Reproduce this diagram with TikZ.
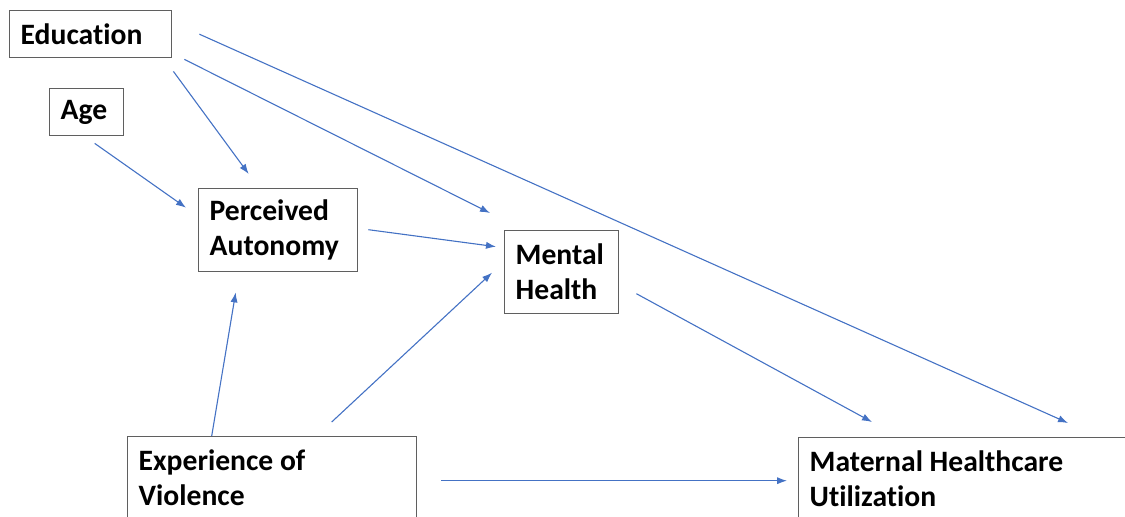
\documentclass[tikz,border=0pt]{standalone}
\usepackage{fontspec}
\setmainfont{Carlito}[RawFeature={-liga}]
\usepackage{tikz}
\usetikzlibrary{arrows.meta}

\definecolor{arrowblue}{HTML}{4472C4}
\definecolor{boxgray}{HTML}{5F5F5F}

\tikzset{
  box/.style={draw=boxgray,line width=0.7pt,anchor=north west,align=flush left,
    inner xsep=5.5pt,inner ysep=0pt,
    font=\bfseries\fontsize{14.8}{17.5}\selectfont},
  link/.style={draw,->,color=arrowblue,line width=0.55pt}
}

\begin{document}
\begin{tikzpicture}[x=0.5pt,y=-0.5pt,>={Latex[length=5pt,width=3.6pt]}]

\useasboundingbox (0,0) rectangle (1125,517);
\clip (0,0) rectangle (1125,517);

\node[box,text width=70pt,minimum height=23.5pt] (edu) at (9,10) {Education};
\node[box,text width=26pt,minimum height=23.5pt] (age) at (49,88) {Age};
\node[box,text width=68.5pt,minimum height=41.5pt] (aut) at (198,188) {Perceived\\Autonomy};
\node[box,text width=46pt,minimum height=41.5pt] (men) at (504,230) {Mental\\Health};
\node[box,text width=133.5pt,minimum height=41.5pt] (vio) at (127,436) {Experience of\\Violence};
\node[box,text width=161pt,minimum height=41.5pt] (mat) at (798,437) {Maternal Healthcare\\Utilization};

\path[every edge/.style={link}]
  ([shift={(1,13)}]edu.south east) edge ([shift={(-29.5,-14)}]aut.north)
  ([shift={(12,1)}]edu.south east) edge ([shift={(-14,-17)}]men.north west)
  ([shift={(27,0)}]edu.east) edge ([shift={(270,-14)}]mat.north west)
  ([shift={(8,7)}]age.south) edge ([shift={(-12,-22.5)}]aut.west)
  ([shift={(10,-0.5)}]aut.east) edge ([shift={(-8,-25.5)}]men.west)
  ([shift={(-60.5,0)}]vio.north) edge ([shift={(-42.5,20)}]aut.south)
  ([shift={(59.5,-14)}]vio.north) edge ([shift={(-12,0.5)}]men.west)
  ([shift={(17,21.5)}]men.east) edge ([shift={(74,-15)}]mat.north west)
  ([shift={(24,2.5)}]vio.east) edge ([shift={(-11,1.5)}]mat.west);

\end{tikzpicture}
\end{document}
